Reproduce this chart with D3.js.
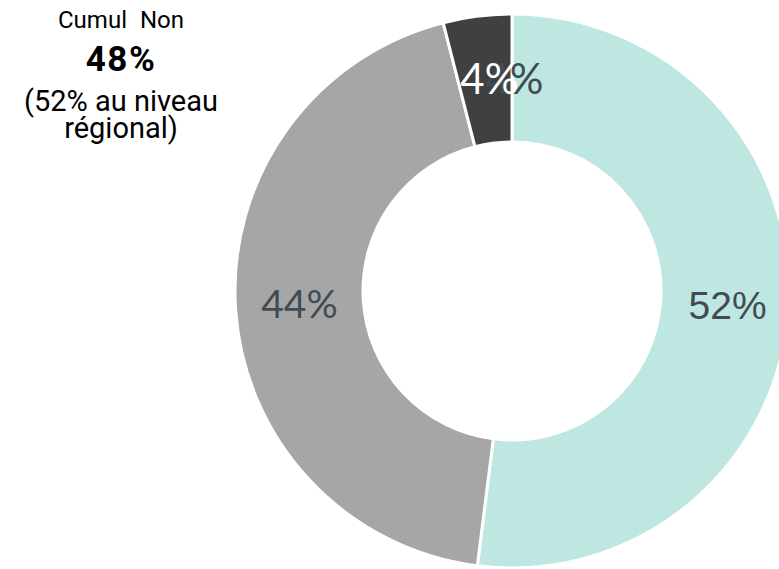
<!DOCTYPE html>
<html>
<head>
<meta charset="utf-8">
<script src="https://cdn.jsdelivr.net/npm/d3@7"></script>
<style>
  body { margin: 0; background: #fff; }
</style>
</head>
<body>
<script>
// DATA
var categories = ["Non", "Oui", "Ne sait pas"];
var values = [52, 44, 4];
var sliceLabels = ["52%", "44%", "4%"];
var colours = ["#bfe7e2", "#a6a6a6", "#404040"];
var noteLines = ["Cumul Non", "48%", "(52% au niveau", "régional)"];

var width = 779, height = 569;
var cx = 512, cy = 291;
var outerR = 277, innerR = 149;

var svg = d3.select("body").append("svg")
  .attr("width", width).attr("height", height)
  .attr("viewBox", "0,0," + width + "," + height);

var pie = d3.pie().sort(null).value(function(d){ return d; });
var arcs = pie(values);
var arc = d3.arc().innerRadius(innerR).outerRadius(outerR);
var labelArc = d3.arc().innerRadius((innerR + outerR) / 2).outerRadius((innerR + outerR) / 2);

var g = svg.append("g").attr("transform", "translate(" + cx + "," + cy + ")");

g.selectAll("path.slice").data(arcs).enter().append("path")
  .attr("class", "slice")
  .attr("d", arc)
  .attr("fill", function(d, i){ return colours[i]; })
  .attr("stroke", "#fff")
  .attr("stroke-width", 3)
  .attr("stroke-linejoin", "miter");

// labels (the small slice has a dark duplicate label overlapping the white one)
g.selectAll("text.dup").data(arcs.filter(function(d){ return d.index == 2; })).enter().append("text")
  .attr("class", "dup")
  .text(function(d){ return sliceLabels[d.index]; })
  .attr("x", function(d){ return labelArc.centroid(d)[0] + 29; })
  .attr("y", function(d){ return labelArc.centroid(d)[1] + 4; })
  .attr("text-anchor", "middle")
  .attr("dominant-baseline", "middle")
  .attr("font-family", "Lato")
  .attr("font-size", "42px")
  .attr("fill", "#3f4c54");

g.selectAll("text.lab").data(arcs).enter().append("text")
  .attr("class", "lab")
  .text(function(d){ return sliceLabels[d.index]; })
  .attr("x", function(d){ return labelArc.centroid(d)[0] + (d.index == 2 ? 4 : (d.index == 0 ? 3 : 0)); })
  .attr("y", function(d){ return labelArc.centroid(d)[1] + 4; })
  .attr("text-anchor", "middle")
  .attr("dominant-baseline", "middle")
  .attr("font-family", function(d){ return d.index == 0 ? "Liberation Sans" : "Lato"; })
  .attr("font-size", function(d){ return d.index == 2 ? "42px" : "39px"; })
  .attr("fill", function(d){ return d.index == 2 ? "#ffffff" : "#3f4c54"; });

// note on the left
var noteY = [28, 71, 111, 138];
var noteSize = [24, 35, 29, 29];
svg.selectAll("text.note").data(noteLines).enter().append("text")
  .attr("class", "note")
  .text(function(d){ return d; })
  .attr("x", 121)
  .attr("y", function(d, i){ return noteY[i]; })
  .attr("text-anchor", "middle")
  .attr("font-family", "Roboto")
  .attr("font-size", function(d, i){ return noteSize[i] + "px"; })
  .attr("font-weight", function(d, i){ return i == 1 ? "bold" : "normal"; })
  .attr("word-spacing", function(d, i){ return i == 0 ? "7px" : "0px"; })
  .attr("letter-spacing", function(d, i){ return i == 1 ? "1.5px" : "0px"; })
  .attr("fill", "#000");
</script>
</body>
</html>
